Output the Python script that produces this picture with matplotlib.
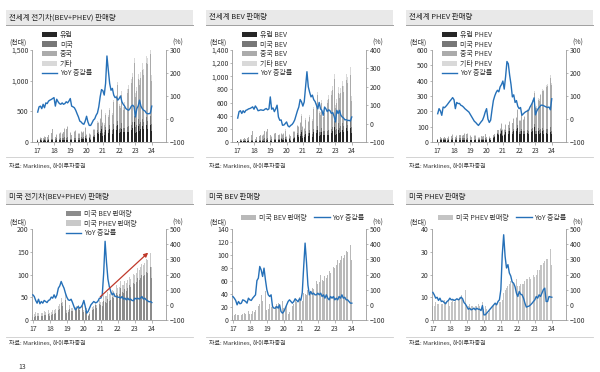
import numpy as np
import matplotlib
matplotlib.use('Agg')
import matplotlib.pyplot as plt
from matplotlib.patches import Rectangle, Patch
from matplotlib.lines import Line2D
from matplotlib.ticker import FuncFormatter

plt.rcParams['font.family'] = ['Noto Sans CJK KR', 'DejaVu Sans']

# ---------------- data (monthly, 2017-01 .. 2024-01, thousand units) ----------------
year_labels = ['17', '18', '19', '20', '21', '22', '23', '24']

eu_bev = [8, 9, 14, 9, 10, 14, 9, 9, 17, 12, 14, 16,
          12, 12, 20, 15, 16, 20, 16, 17, 22, 20, 24, 28,
          20, 22, 40, 25, 28, 35, 25, 25, 40, 30, 35, 50,
          35, 40, 40, 20, 25, 50, 55, 50, 100, 80, 95, 150,
          60, 75, 125, 85, 95, 140, 95, 80, 150, 110, 130, 180,
          90, 100, 150, 100, 100, 140, 100, 110, 170, 130, 160, 230,
          100, 115, 190, 130, 155, 190, 150, 150, 210, 160, 170, 210,
          130]
cn_bev = [4, 8, 18, 19, 22, 32, 30, 37, 48, 52, 82, 130,
          20, 22, 40, 55, 60, 65, 55, 70, 100, 105, 135, 190,
          70, 40, 90, 75, 85, 110, 55, 55, 60, 55, 70, 95,
          30, 10, 40, 60, 70, 80, 75, 85, 105, 125, 165, 210,
          140, 95, 165, 170, 170, 200, 190, 200, 300, 320, 380, 480,
          300, 260, 370, 220, 280, 420, 430, 480, 530, 520, 560, 650,
          330, 400, 470, 450, 500, 560, 520, 580, 620, 640, 680, 700,
          400]
us_bev = [6, 7, 9, 8, 8, 9, 8, 9, 11, 10, 9, 14,
          9, 10, 14, 13, 15, 16, 22, 25, 38, 30, 33, 45,
          16, 17, 25, 20, 20, 28, 22, 24, 26, 22, 22, 30,
          18, 19, 22, 9, 13, 17, 22, 24, 32, 27, 26, 36,
          32, 30, 42, 40, 38, 46, 42, 44, 50, 48, 52, 60,
          55, 58, 70, 62, 60, 68, 64, 70, 76, 72, 74, 82,
          80, 84, 92, 88, 92, 98, 96, 100, 106, 104, 106, 116,
          92]
oth_bev = [3, 3, 5, 4, 4, 5, 4, 4, 6, 5, 5, 7,
           5, 5, 8, 6, 7, 9, 7, 8, 10, 9, 10, 12,
           8, 9, 14, 10, 11, 14, 11, 12, 16, 13, 15, 18,
           12, 12, 14, 8, 10, 14, 14, 14, 20, 18, 20, 26,
           18, 20, 28, 22, 24, 30, 26, 28, 36, 32, 36, 44,
           34, 36, 50, 40, 44, 52, 48, 52, 62, 56, 62, 78,
           60, 62, 80, 70, 74, 86, 80, 84, 96, 90, 94, 110,
           80]

eu_phev = [10, 10, 14, 11, 11, 13, 10, 9, 13, 12, 13, 14,
           12, 12, 16, 14, 14, 15, 14, 13, 13, 12, 13, 14,
           10, 10, 13, 10, 11, 12, 11, 11, 14, 12, 14, 16,
           15, 18, 20, 10, 13, 25, 30, 30, 50, 45, 50, 70,
           40, 45, 65, 55, 55, 75, 60, 50, 70, 65, 70, 90,
           50, 55, 70, 55, 55, 70, 60, 55, 75, 65, 75, 100,
           50, 55, 70, 55, 60, 70, 55, 55, 60, 55, 60, 65,
           50]
cn_phev = [3, 5, 8, 8, 8, 10, 10, 10, 12, 12, 18, 25,
           8, 10, 15, 20, 20, 20, 18, 22, 28, 28, 30, 40,
           25, 15, 30, 25, 25, 25, 12, 12, 15, 15, 15, 25,
           10, 3, 10, 12, 12, 15, 15, 18, 20, 25, 30, 40,
           30, 25, 35, 35, 40, 40, 50, 55, 60, 60, 70, 100,
           70, 65, 90, 75, 90, 110, 130, 130, 140, 150, 170, 200,
           150, 150, 180, 190, 220, 240, 250, 260, 270, 280, 300, 320,
           300]
us_phev = [6, 6, 8, 7, 7, 8, 7, 7, 9, 8, 7, 9,
           6, 8, 9, 8, 9, 9, 9, 10, 11, 9, 10, 13,
           6, 6, 7, 6, 6, 7, 6, 6, 7, 6, 7, 8,
           5, 6, 5, 3, 4, 5, 6, 6, 7, 7, 7, 8,
           8, 9, 12, 13, 14, 15, 16, 17, 17, 16, 16, 18,
           15, 15, 16, 16, 16, 17, 18, 18, 19, 18, 19, 20,
           19, 20, 22, 22, 24, 24, 25, 26, 27, 27, 28, 31,
           24]
oth_phev = [2, 2, 3, 2, 2, 3, 2, 2, 3, 3, 3, 3,
            3, 3, 4, 3, 3, 4, 3, 3, 4, 4, 4, 4,
            3, 3, 4, 3, 3, 4, 3, 3, 4, 3, 4, 4,
            3, 3, 3, 2, 2, 3, 3, 3, 4, 4, 4, 5,
            4, 4, 6, 5, 5, 6, 5, 5, 7, 6, 7, 8,
            6, 6, 8, 7, 7, 8, 8, 8, 10, 9, 10, 12,
            9, 10, 12, 11, 12, 13, 12, 13, 15, 14, 15, 18,
            12]

# YoY growth (%)
yoy_total = [30, 53, 56, 45, 64, 49, 70, 67, 78, 82, 85, 89,
             93, 56, 86, 75, 67, 64, 70, 64, 67, 75, 70, 78,
             89, 56, 53, 49, 38, 23, 9, -9, -13, -20, -23, -9,
             12, -13, -28, -28, -17, -5, 1, 16, 26, 53, 96, 128,
             123, 104, 155, 274, 213, 155, 125, 133, 104, 93, 96, 82,
             89, 100, 75, 64, 56, 45, 41, 38, 45, 56, 60, 53,
             9, 45, 56, 82, 56, 45, 38, 35, 26, 23, 23, 26,
             56]
yoy_bev = [30, 65, 70, 55, 70, 60, 72, 75, 80, 82, 86, 91,
           78, 96, 85, 70, 72, 75, 73, 72, 78, 82, 75, 80,
           145, 78, 85, 65, 80, 100, 36, 18, 20, -9, -8, 0,
           9, -12, -18, -10, -5, 5, 20, 45, 70, 90, 131, 118,
           95, 118, 200, 282, 200, 170, 145, 155, 130, 120, 100, 80,
           115, 80, 72, 45, 90, 80, 65, 75, 70, 55, 60, 40,
           9, 72, 55, 72, 45, 36, 30, 20, 22, 16, 18, 14,
           36]
yoy_phev = [23, 45, 35, 16, 52, 49, 55, 62, 70, 78, 85, 93,
            84, 45, 72, 67, 68, 60, 57, 52, 45, 40, 35, 30,
            20, 10, 0, -10, -15, -22, -28, -20, -12, -5, 10, 30,
            45, 0, -15, -5, 40, 80, 100, 115, 125, 118, 140, 150,
            165, 130, 184, 250, 240, 190, 150, 96, 105, 72, 80, 55,
            45, 50, 16, 22, 28, 32, 35, 38, 52, 62, 75, 92,
            18, 35, 45, 52, 60, 60, 58, 55, 52, 50, 52, 40,
            88]
yoy_us = [66, 55, 29, 11, 37, 7, 22, 11, 29, 22, 15, 29,
          33, 51, 44, 66, 45, 66, 110, 125, 154, 130, 110, 77,
          50, 33, 29, 37, 15, -11, -33, -22, -11, -22, -15, 0,
          29, -11, -55, -44, -22, 0, 11, 22, 15, 15, 25, 44,
          44, 66, 209, 419, 280, 170, 120, 88, 66, 77, 55, 55,
          50, 50, 44, 55, 38, 44, 33, 44, 33, 38, 29, 27,
          44, 38, 44, 38, 44, 55, 38, 44, 33, 27, 20, 22,
          15]
yoy_us_bev = [55, 44, 29, 0, 22, 7, 11, 33, 29, 22, 11, 44,
              33, 29, 44, 55, 66, 160, 176, 253, 230, 187, 242, 165,
              100, 66, 55, 66, -11, -22, -22, -11, -22, 0, -44, -55,
              -44, -22, 0, 22, 33, 22, 11, 22, 40, 30, 20, 40,
              30, 80, 250, 407, 280, 130, 66, 88, 70, 77, 66, 66,
              77, 66, 77, 55, 66, 44, 66, 44, 33, 55, 44, 55,
              33, 44, 33, 55, 44, 66, 44, 50, 33, 33, 22, 11,
              11]
yoy_us_phev = [82, 66, 44, 50, 29, 44, 22, 25, 15, 7, 22, 29,
               44, 33, 36, 29, 33, 40, 33, 40, 51, 40, 15, 5,
               -11, -29, -22, -33, -29, -22, -33, -22, -29, -29, -38, -5,
               -66, -66, -55, -45, -33, -22, -11, 0, 11, 0, 22, 33,
               100, 330, 462, 320, 243, 265, 210, 190, 150, 143, 120, 77,
               55, 88, 70, 66, 44, 11, -15, -11, -8, 0, 10, 22,
               33, 55, 44, 66, 55, 77, 100, 110, 22, 22, 55, 52,
               50]

# ---------------- styling ----------------
W, H = 600, 372
BLUE = '#2570b8'
C_EU, C_US, C_CN, C_OT = '#262626', '#777777', '#ababab', '#d9d9d9'
TXT = '#333333'
SPINE = '#9a9a9a'
FS = 5

fig = plt.figure(figsize=(6, 3.72), dpi=100)


def box(l, t, r, b):
    return [l / W, 1 - b / H, (r - l) / W, (b - t) / H]


def fx(px):
    return px / W


def fy(py):
    return 1 - py / H


x = np.arange(len(eu_bev))
ticks_x = [12 * i for i in range(len(year_labels))]
comma = FuncFormatter(lambda v, p: f'{int(v):,}')


def frame(off, top):
    # title band, separator, source
    if top:
        t0, t1, sep, src, lab = 10, 25, 157, 166, 43
    else:
        t0, t1, sep, src, lab = 190, 204, 337, 343, 223
    fig.add_artist(Rectangle((fx(off + 6), fy(t1)), (187) / W, (t1 - t0) / H,
                             transform=fig.transFigure, facecolor='#e9e9e9',
                             edgecolor='none', zorder=0))
    fig.add_artist(Line2D([fx(off + 6), fx(off + 193)], [fy(t1), fy(t1)],
                          transform=fig.transFigure, color='#a0a0a0', lw=0.7))
    fig.add_artist(Line2D([fx(off + 6), fx(off + 193)], [fy(sep), fy(sep)],
                          transform=fig.transFigure, color='#cccccc', lw=0.6))
    fig.text(fx(off + 9), fy(src), '자료: Marklines, 하이투자증권', fontsize=4.3,
             color=TXT, ha='left', va='center')
    fig.text(fx(off + 18), fy(lab), '(천대)', fontsize=FS, color=TXT,
             ha='center', va='center')
    fig.text(fx(off + 178), fy(lab), '(%)', fontsize=FS, color=TXT,
             ha='center', va='center')
    return (t0 + t1) / 2


def make_axes(off, top, xlim):
    if top:
        rect = box(off + 32, 50, off + 166, 142)
    else:
        rect = box(off + 32, 229, off + 166, 320)
    ax = fig.add_axes(rect)
    ax2 = ax.twinx()
    for a in (ax, ax2):
        a.spines['top'].set_visible(False)
        for s in a.spines.values():
            s.set_color(SPINE)
            s.set_linewidth(0.6)
    ax.spines['right'].set_visible(False)
    ax2.spines['left'].set_visible(False)
    ax2.spines['bottom'].set_visible(False)
    ax.set_xlim(*xlim)
    ax.set_xticks(ticks_x)
    ax.set_xticklabels(year_labels)
    ax.tick_params(axis='x', labelsize=FS, labelcolor=TXT, color=SPINE,
                   length=2, width=0.5, pad=1.5)
    ax.tick_params(axis='y', labelsize=FS, labelcolor=TXT, color=SPINE,
                   length=1.5, width=0.5, pad=1)
    ax2.tick_params(axis='y', labelsize=FS, labelcolor=TXT, color=SPINE,
                    length=1.5, width=0.5, pad=1)
    ax.yaxis.set_major_formatter(comma)
    ax.patch.set_alpha(0)
    return ax, ax2


def title(off, yc, text):
    fig.text(fx(off + 9), fy(yc), text, fontsize=5.4, color='#222222',
             ha='left', va='center')


BW = 0.6
top_xlim = (-4.2, 94.5)
bot_xlim = (-0.6, 94.0)

# ---------- Panel 1: global EV ----------
eu_all = np.add(eu_bev, eu_phev)
us_all = np.add(us_bev, us_phev)
cn_all = np.add(cn_bev, cn_phev)
ot_all = np.add(oth_bev, oth_phev)


def stacked(ax, series, colors):
    bottom = np.zeros(len(x))
    for s, c in zip(series, colors):
        ax.bar(x, s, width=BW, bottom=bottom, color=c, linewidth=0)
        bottom = bottom + np.asarray(s)


panels_top = [
    (0, '전세계 전기차(BEV+PHEV) 판매량', (eu_all, us_all, cn_all, ot_all), yoy_total,
     (0, 1500), [0, 500, 1000, 1500], (-100, 300), [-100, 0, 100, 200, 300],
     ['유럽', '미국', '중국', '기타']),
    (200, '전세계 BEV 판매량', (eu_bev, us_bev, cn_bev, oth_bev), yoy_bev,
     (0, 1400), list(range(0, 1401, 200)), (-100, 400), [-100, 0, 100, 200, 300, 400],
     ['유럽 BEV', '미국 BEV', '중국 BEV', '기타 BEV']),
    (400, '전세계 PHEV 판매량', (eu_phev, us_phev, cn_phev, oth_phev), yoy_phev,
     (0, 600), list(range(0, 601, 100)), (-100, 300), [-100, 0, 100, 200, 300],
     ['유럽 PHEV', '미국 PHEV', '중국 PHEV', '기타 PHEV']),
]
cols4 = [C_EU, C_US, C_CN, C_OT]
for off, ttl, series, yoy, yl, yt, yl2, yt2, labs in panels_top:
    yc = frame(off, True)
    title(off, yc, ttl)
    ax, ax2 = make_axes(off, True, top_xlim)
    stacked(ax, series, cols4)
    ax2.plot(x, yoy, color=BLUE, lw=1.0)
    ax.set_ylim(*yl)
    ax.set_yticks(yt)
    ax2.set_ylim(*yl2)
    ax2.set_yticks(yt2)
    handles = [Patch(color=c, linewidth=0) for c in cols4] + \
              [Line2D([], [], color=BLUE, lw=1.0)]
    fig.legend(handles, labs + ['YoY 증감률'], loc='upper left',
               bbox_to_anchor=(fx(off + 42), fy(31)), frameon=False,
               fontsize=FS, handlelength=2.2, handleheight=0.8,
               labelspacing=0.22, handletextpad=0.4, borderpad=0,
               borderaxespad=0, labelcolor=TXT)

# ---------- Panel 4: US EV ----------
off = 0
yc = frame(off, False)
title(off, yc, '미국 전기차(BEV+PHEV) 판매량')
ax, ax2 = make_axes(off, False, bot_xlim)
C_USB, C_USP = '#8c8c8c', '#c9c9c9'
stacked(ax, (us_bev, us_phev), (C_USB, C_USP))
ax2.plot(x, yoy_us, color=BLUE, lw=1.0)
ax.set_ylim(0, 200)
ax.set_yticks([0, 50, 100, 150, 200])
ax2.set_ylim(-100, 500)
ax2.set_yticks(list(range(-100, 501, 100)))
ax2.annotate('', xy=(81.4, 148), xytext=(47.6, 51),
             xycoords=ax.transData, textcoords=ax.transData,
             arrowprops=dict(arrowstyle='-|>', color='#c0392b', lw=0.9,
                             mutation_scale=6, shrinkA=0, shrinkB=0))
fig.legend([Patch(color=C_USB, linewidth=0), Patch(color=C_USP, linewidth=0),
            Line2D([], [], color=BLUE, lw=1.0)],
           ['미국 BEV 판매량', '미국 PHEV 판매량', 'YoY 증감률'],
           loc='upper left', bbox_to_anchor=(fx(off + 66), fy(210)),
           frameon=False, fontsize=FS, handlelength=2.2, handleheight=0.8,
           labelspacing=0.22, handletextpad=0.4, borderpad=0, borderaxespad=0,
           labelcolor=TXT)

# ---------- Panel 5: US BEV ----------
off = 200
yc = frame(off, False)
title(off, yc, '미국 BEV 판매량')
ax, ax2 = make_axes(off, False, bot_xlim)
C5 = '#b9b9b9'
ax.bar(x, us_bev, width=BW, color=C5, linewidth=0)
ax2.plot(x, yoy_us_bev, color=BLUE, lw=1.0)
ax.set_ylim(0, 140)
ax.set_yticks(list(range(0, 141, 20)))
ax2.set_ylim(-100, 500)
ax2.set_yticks(list(range(-100, 501, 100)))
fig.legend([Patch(color=C5, linewidth=0), Line2D([], [], color=BLUE, lw=1.0)],
           ['미국 BEV 판매량', 'YoY 증감률'], ncol=2,
           loc='upper left', bbox_to_anchor=(fx(off + 41), fy(214)),
           frameon=False, fontsize=FS, handlelength=2.2, handleheight=0.8,
           columnspacing=1.1, handletextpad=0.4, borderpad=0, borderaxespad=0,
           labelcolor=TXT)

# ---------- Panel 6: US PHEV ----------
off = 400
yc = frame(off, False)
title(off, yc, '미국 PHEV 판매량')
ax, ax2 = make_axes(off, False, bot_xlim)
C6 = '#c4c4c4'
ax.bar(x, us_phev, width=BW, color=C6, linewidth=0)
ax2.plot(x, yoy_us_phev, color=BLUE, lw=1.0)
ax.set_ylim(0, 40)
ax.set_yticks([0, 10, 20, 30, 40])
ax2.set_ylim(-100, 500)
ax2.set_yticks(list(range(-100, 501, 100)))
fig.legend([Patch(color=C6, linewidth=0), Line2D([], [], color=BLUE, lw=1.0)],
           ['미국 PHEV 판매량', 'YoY 증감률'], ncol=2,
           loc='upper left', bbox_to_anchor=(fx(off + 38), fy(214)),
           frameon=False, fontsize=FS, handlelength=2.2, handleheight=0.8,
           columnspacing=1.1, handletextpad=0.4, borderpad=0, borderaxespad=0,
           labelcolor=TXT)

fig.text(fx(22), fy(367), '13', fontsize=5, color=TXT, ha='center', va='center')

fig.savefig('out.png', dpi=100)
